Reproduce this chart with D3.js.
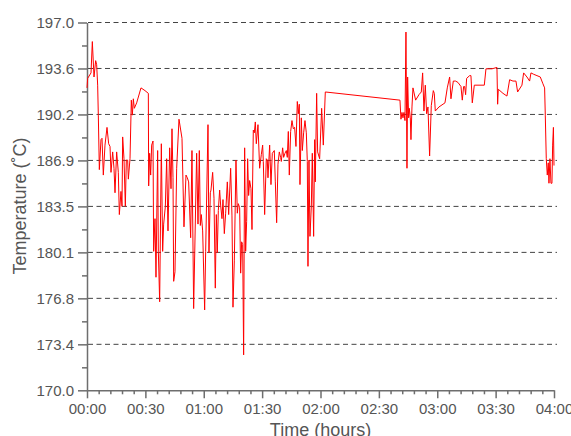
<!DOCTYPE html>
<meta charset="utf-8">
<head>
<style>
  body {
    margin: 0;
    background-color: #ffffff;
  }
  .axis path,
  .axis line {
    fill: none;
    stroke: #6e6e6e;
    stroke-width: 1.5px;
  }
  .axis text {
    font-family: "Liberation Sans", Arial, sans-serif;
    font-size: 15px;
    fill: #555555;
  }
  .grid {
    stroke: #444444;
    stroke-width: 1px;
    stroke-dasharray: 5,3.5;
  }
  .label {
    font-family: "Liberation Sans", Arial, sans-serif;
    font-size: 18px;
    fill: #555555;
  }
  .line {
    fill: none;
    stroke: #ff0000;
    stroke-width: 1px;
  }
</style>
</head>
<body>
<svg id="chart" width="571" height="436"></svg>
<script src="https://d3js.org/d3.v7.min.js"></script>
<script>

// time since start, minutes
var minutes = [
  0, 0.34, 2.06, 2.74, 3.60, 4.45, 4.97, 5.48, 5.82, 6.34,
  7.19, 7.71, 8.39, 9.25, 10.28, 11.13, 11.82, 12.33, 13.19, 13.87,
  14.39, 15.24, 16.10, 16.62, 17.47, 17.99, 18.33, 19.01, 19.70, 20.21,
  20.90, 21.24, 22.10, 22.78, 23.30, 23.81, 24.32, 25.52, 27.75, 29.80,
  31.52, 31.69, 32.20, 32.72, 33.23, 33.92, 34.26, 34.94, 35.46, 36.31,
  36.66, 37.34, 38.20, 38.88, 39.40, 40.26, 40.94, 41.62, 42.48, 43.17,
  43.68, 44.20, 44.54, 45.22, 46.08, 47.28,
  48.82, 49.84, 50.87, 51.56, 52.24, 53.27, 53.95, 54.81, 56.35, 57.04,
  57.72, 58.24, 58.75, 59.44, 60.46, 60.98, 62.18, 62.69, 63.38, 63.72,
  64.57, 65.26, 65.94, 66.46, 66.97, 67.49, 68.17, 68.68, 69.37, 69.88,
  70.57, 71.25, 72.11, 72.80, 73.82, 74.51, 75.02, 75.71, 76.56, 77.25,
  77.76, 78.45, 78.96, 79.48, 79.99, 80.50, 81.02, 81.53, 82.05, 82.56,
  83.07, 83.59, 84.27, 84.79, 85.47, 85.99, 86.50, 87.01, 87.87, 88.73,
  89.58, 90.27, 90.61, 91.30, 92.15, 92.67, 93.01, 93.87, 94.55, 95.23,
  96.26, 96.78, 97.46, 98.15, 98.83, 99.52, 99.86, 100.55, 101.06, 101.74,
  102.43, 102.94, 103.46, 103.97, 104.66, 105.34, 106.03, 106.71, 107.40, 108.08,
  108.60, 109.11, 109.45, 110.14, 110.65, 111.34, 112.02, 112.71, 113.22, 113.56,
  114.08, 114.59, 115.28, 115.79, 116.47, 116.99, 117.33, 118.02, 118.53, 119.56,
  120.59, 121.44, 122.47,
  160.84, 161.35, 161.87, 162.38, 162.89, 163.41, 163.92, 164.44, 164.78, 165.29,
  165.64, 166.15, 166.49, 167.01, 167.52, 168.89, 170.60, 171.80, 172.49, 173.17,
  173.86, 174.54, 175.23, 176.08, 176.94, 177.97, 178.48, 179.00, 180.88, 183.96,
  185.16, 186.36, 187.05, 188.25, 189.44, 190.64,
  192.19, 192.87, 193.56, 194.07, 194.58, 195.10, 196.64, 197.32, 198.01, 199.04,
  204.18, 205.03, 208.12, 210.68, 211.03, 211.37, 213.77, 215.82, 217.19, 218.91,
  220.45, 221.30, 223.53, 224.39, 226.10, 227.47, 228.16, 229.53, 231.24, 232.95,
  234.32, 235.18, 235.52, 236.03, 236.55, 237.06, 237.41, 237.92, 238.43, 238.95,
  239.3, 239.7, 240.0
];

var temperature = [
  192.2, 192.9, 193.3, 195.6, 193.0, 194.2, 193.9, 192.4, 190.2, 186.2,
  188.4, 188.5, 185.8, 188.0, 189.3, 188.1, 187.9, 186.0, 187.5, 186.3,
  184.5, 187.5, 186.0, 182.9, 184.6, 183.5, 188.6, 187.0, 183.5, 186.9,
  186.9, 185.5, 187.0, 191.3, 190.2, 191.4, 190.7, 191.1, 192.2, 192.0,
  191.8, 185.0, 187.4, 185.8, 188.0, 188.3, 180.2, 182.6, 178.3, 187.6,
  180.2, 176.5, 188.1, 180.2, 182.2, 183.5, 187.0, 181.7, 187.8, 184.8,
  189.2, 185.6, 178.0, 178.7, 186.3, 189.9,
  188.5, 182.0, 185.8, 185.6, 185.3, 181.2, 187.6, 176.0, 187.4, 182.2,
  187.6, 182.1, 182.9, 181.7, 175.9, 180.2, 189.5, 180.1, 184.5, 184.7,
  186.0, 184.1, 177.5, 182.9, 180.1, 183.2, 184.7, 183.6, 182.6, 184.0,
  181.5, 183.0, 185.3, 182.9, 186.3, 182.8, 176.1, 179.5, 186.9, 183.0,
  183.7, 183.4, 178.6, 180.9, 180.7, 172.6, 187.8, 180.2, 182.4, 187.0,
  184.3, 185.4, 184.8, 181.8, 189.1, 188.9, 189.7, 188.1, 189.5, 186.3,
  187.3, 188.0, 186.8, 182.9, 187.0, 186.9, 185.6, 188.0, 185.1, 187.4,
  187.6, 185.3, 182.3, 186.6, 187.5, 187.1, 186.8, 187.8, 187.1, 187.4,
  187.6, 187.1, 189.0, 185.8, 189.0, 189.8, 189.2, 189.3, 187.9, 191.2,
  190.3, 191.0, 185.1, 190.0, 187.6, 188.9, 189.8, 188.9, 186.8, 179.1,
  186.9, 181.3, 183.5, 187.4, 181.3, 188.4, 185.3, 191.8, 187.5, 187.0,
  190.7, 188.0, 191.9,
  191.3, 189.9, 190.4, 190.0, 190.4, 189.8, 196.3, 186.3, 193.0, 190.0,
  190.7, 190.0, 188.4, 190.8, 192.2, 191.3, 191.7, 191.9, 193.3, 190.5,
  192.4, 190.3, 190.8, 187.2, 190.9, 192.0, 191.8, 190.5, 190.8, 191.1,
  192.2, 193.0, 191.4, 192.7, 192.7, 192.6,
  192.3, 191.3, 192.3, 192.3, 191.7, 192.9, 193.1, 193.1, 191.1, 192.4,
  192.4, 193.6, 193.6, 193.7, 191.0, 192.1, 191.8, 191.6, 192.8, 192.7,
  192.7, 191.9, 192.4, 193.3, 193.0, 192.7, 193.3, 193.2, 193.1, 193.0,
  192.5, 192.2, 190.2, 187.0, 185.8, 186.7, 185.2, 187.0, 185.2, 185.2,
  188.0, 189.3, 186.5
];

var yTicks = [170, 173.375, 176.75, 180.125, 183.5, 186.875, 190.25, 193.625, 197];
var yTickLabels = ["170.0", "173.4", "176.8", "180.1", "183.5", "186.9", "190.2", "193.6", "197.0"];
var xTicks = [0, 30, 60, 90, 120, 150, 180, 210, 240];
var xTickLabels = ["00:00", "00:30", "01:00", "01:30", "02:00", "02:30", "03:00", "03:30", "04:00"];

var svg = d3.select("#chart"),
    margin = {top: 22.5, right: 17, bottom: 45.7, left: 87},
    width = +svg.attr("width") - margin.left - margin.right,
    height = +svg.attr("height") - margin.top - margin.bottom;

var g = svg.append("g")
    .attr("transform", "translate(" + margin.left + "," + margin.top + ")");

var x = d3.scaleLinear().domain([0, 240]).range([0, width]);
var y = d3.scaleLinear().domain([170, 197]).range([height, 0]);

// dashed grid
g.selectAll(".grid")
    .data(yTicks.slice(1))
    .enter().append("line")
    .attr("class", "grid")
    .attr("x1", 1)
    .attr("x2", width + 3)
    .attr("y1", function(d) { return y(d); })
    .attr("y2", function(d) { return y(d); });

// minor ticks
var yMinor = yTicks.slice(0, -1).map(function(d, i) { return (d + yTicks[i + 1]) / 2; });
g.append("g")
    .attr("class", "axis")
    .call(d3.axisLeft(y).tickValues(yMinor).tickSize(5).tickSizeOuter(0).tickFormat(""))
    .select(".domain").remove();

var xMinor = d3.range(0, 241, 6).filter(function(d) { return d % 30 !== 0; });
g.append("g")
    .attr("class", "axis")
    .attr("transform", "translate(0," + height + ")")
    .call(d3.axisBottom(x).tickValues(xMinor).tickSize(4).tickSizeOuter(0).tickFormat(""))
    .select(".domain").remove();

g.append("g")
    .attr("class", "axis")
    .call(d3.axisLeft(y).tickValues(yTicks).tickSize(9).tickSizeOuter(0).tickPadding(4)
      .tickFormat(function(d, i) { return yTickLabels[i]; }));

g.append("g")
    .attr("class", "axis")
    .attr("transform", "translate(0," + height + ")")
    .call(d3.axisBottom(x).tickValues(xTicks).tickSize(8).tickSizeOuter(0).tickPadding(5)
      .tickFormat(function(d, i) { return xTickLabels[i]; }));

var line = d3.line()
    .x(function(d, i) { return x(minutes[i]); })
    .y(function(d) { return y(d); });

g.append("path")
    .datum(temperature)
    .attr("class", "line")
    .attr("d", line);

svg.append("text")
    .attr("class", "label")
    .attr("transform", "translate(26,206) rotate(-90)")
    .attr("text-anchor", "middle")
    .text("Temperature (˚C)");

svg.append("text")
    .attr("class", "label")
    .attr("x", margin.left + width / 2)
    .attr("y", 436)
    .attr("text-anchor", "middle")
    .text("Time (hours)");

</script>
</body>
</html>
